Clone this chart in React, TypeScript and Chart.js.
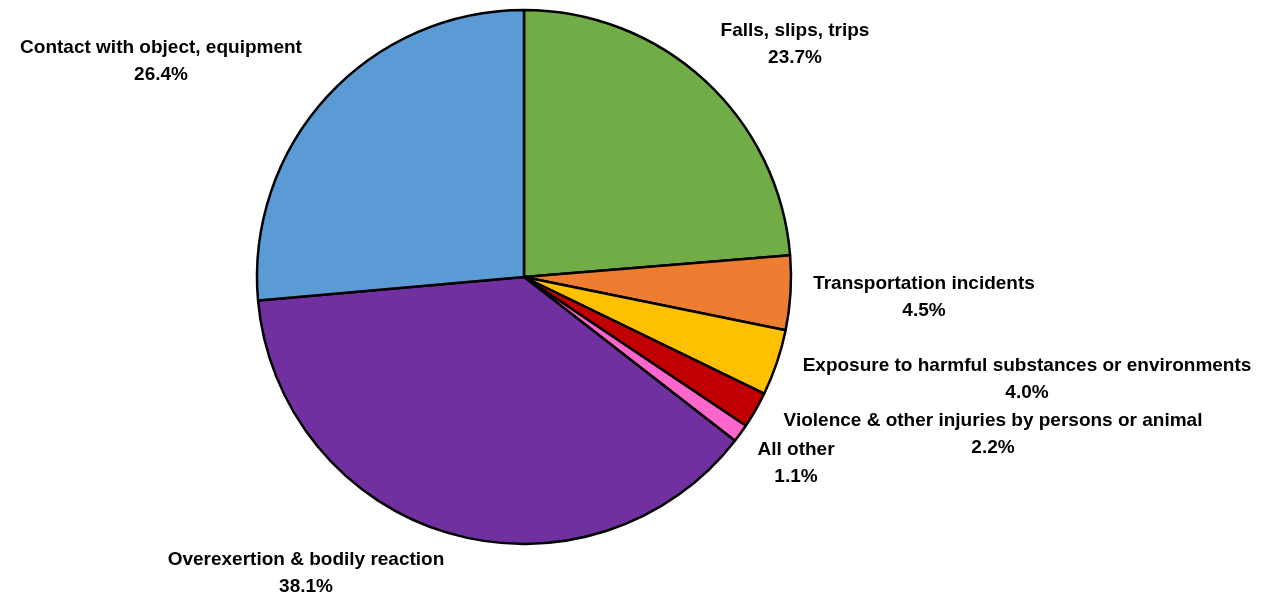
import React, { useEffect, useRef } from "react";
import { Chart, registerables } from "chart.js";

Chart.register(...registerables);

const categories = [
  "Falls, slips, trips",
  "Transportation incidents",
  "Exposure to harmful substances or environments",
  "Violence & other injuries by persons or animal",
  "All other",
  "Overexertion & bodily reaction",
  "Contact with object, equipment",
];
const percentages = [23.7, 4.5, 4.0, 2.2, 1.1, 38.1, 26.4];
const percentLabels = ["23.7%", "4.5%", "4.0%", "2.2%", "1.1%", "38.1%", "26.4%"];
const sliceColors = ["#70AD47", "#ED7D31", "#FFC000", "#C00000", "#FF66CC", "#7030A0", "#5B9BD5"];

// label placement relative to pie centre (first line centre)
const labelOffsets: [number, number][] = [
  [271, -246],
  [400, 7],
  [503, 89],
  [469, 144],
  [272, 173],
  [-218, 283],
  [-363, -229],
];

const labelPlugin = {
  id: "sliceLabels",
  afterDraw(chart: any) {
    const meta = chart.getDatasetMeta(0);
    if (!meta.data.length) return;
    const arc = meta.data[0];
    const cx = arc.x;
    const cy = arc.y;
    const ctx = chart.ctx;
    ctx.save();
    ctx.fillStyle = "#000";
    ctx.textAlign = "center";
    ctx.textBaseline = "middle";
    ctx.font = "bold 19px 'Liberation Sans', Arial, sans-serif";
    categories.forEach((name, i) => {
      const [dx, dy] = labelOffsets[i];
      ctx.fillText(name, cx + dx, cy + dy);
      ctx.fillText(percentLabels[i], cx + dx, cy + dy + 27);
    });
    ctx.restore();
  },
};

export default function App() {
  const ref = useRef<HTMLCanvasElement>(null);
  useEffect(() => {
    if (!ref.current) return;
    const chart = new Chart(ref.current, {
      type: "pie",
      data: {
        labels: categories,
        datasets: [
          {
            data: percentages,
            backgroundColor: sliceColors,
            borderColor: "#000",
            borderWidth: 2.5,
            radius: 267,
          } as any,
        ],
      },
      options: {
        animation: false,
        responsive: true,
        maintainAspectRatio: false,
        layout: { padding: { left: 0, right: 213, top: 0, bottom: 43 } },
        plugins: {
          legend: { display: false },
          tooltip: { enabled: false },
        },
      },
      plugins: [labelPlugin],
    });
    return () => chart.destroy();
  }, []);
  return (
    <div style={{ position: "absolute", left: 0, top: 0, width: 1261, height: 597, background: "#fff" }}>
      <canvas ref={ref} />
    </div>
  );
}
